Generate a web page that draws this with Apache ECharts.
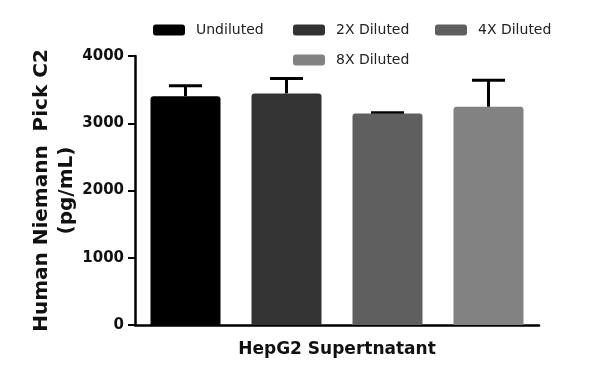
<!DOCTYPE html>
<html><head><meta charset="utf-8">
<script src="https://cdn.jsdelivr.net/npm/echarts@6/dist/echarts.min.js"></script>
<style>html,body{margin:0;padding:0;background:#fff}#c{width:600px;height:381px}</style>
</head><body><div id="c"></div>
<script>
const groupLabel = ['HepG2 Supertnatant'];
const seriesNames = ['Undiluted', '2X Diluted', '4X Diluted', '8X Diluted'];
const means = [3403, 3443, 3146, 3244];
const errTops = [3556, 3666, 3155, 3641];
const colors = ['#000000', '#333333', '#5f5f5f', '#828282'];
const yTicks = [0, 1000, 2000, 3000, 4000];

const FONT = 'DejaVu Sans';
const chart = echarts.init(document.getElementById('c'));

const barSeries = seriesNames.map((n, i) => ({
  name: n, type: 'bar', xAxisIndex: 1, barWidth: 70, barGap: '-100%',
  itemStyle: { color: colors[i], borderRadius: [3, 3, 0, 0] },
  data: means.map((v, j) => j === i ? v : null), z: 2
}));

const errData = means.map((m, i) => [i, m, errTops[i]]);

const legendLefts = [148, 288, 430, 288];
const legendTops = [18, 18, 18, 48];
const legends = seriesNames.map((n, i) => ({
  data: [n], left: legendLefts[i], top: legendTops[i], itemWidth: 32, itemHeight: 11, itemGap: 10,
  icon: 'roundRect', textStyle: { fontFamily: FONT, fontSize: 14, color: '#222', padding: [0, 0, 0, 6] }
}));

chart.setOption({
  animation: false,
  legend: legends,
  grid: { left: 135, right: 61, top: 56, bottom: 56 },
  xAxis: [{
    type: 'category', data: groupLabel, position: 'bottom',
    axisLine: { lineStyle: { color: '#000', width: 2.5 } },
    axisTick: { alignWithLabel: true, length: 6, lineStyle: { width: 2, color: '#000' } },
    axisLabel: { show: true, fontFamily: FONT, fontWeight: 'bold', fontSize: 17, color: '#111', margin: 16 }
  }, {
    type: 'category', data: seriesNames, show: false
  }],
  yAxis: {
    type: 'value', min: 0, max: 4000, interval: 1000,
    name: 'Human Niemann  Pick C2\n(pg/mL)', nameLocation: 'middle', nameRotate: 90, nameGap: 56,
    nameMoveOverlap: false,
    nameTextStyle: { fontFamily: FONT, fontWeight: 'bold', fontSize: 20, color: '#111', lineHeight: 25 },
    axisLine: { show: true, lineStyle: { color: '#000', width: 2.5 } },
    axisTick: { show: true, length: 7, lineStyle: { width: 2, color: '#000' } },
    splitLine: { show: false },
    axisLabel: { fontFamily: FONT, fontWeight: 'bold', fontSize: 15, color: '#111', margin: 11,
      formatter: v => yTicks.includes(v) ? String(v) : '' }
  },
  series: barSeries.concat([{
    type: 'custom', xAxisIndex: 1, z: 1, data: errData,
    renderItem: function (params, api) {
      const x = api.value(0);
      const p0 = api.coord([x, api.value(1)]);
      const p1 = api.coord([x, api.value(2)]);
      const half = 16.5;
      return { type: 'group', children: [
        { type: 'line', shape: { x1: p0[0], y1: p0[1], x2: p1[0], y2: p1[1] }, style: { stroke: '#000', lineWidth: 3 } },
        { type: 'line', shape: { x1: p1[0] - half, y1: p1[1], x2: p1[0] + half, y2: p1[1] }, style: { stroke: '#000', lineWidth: 3 } }
      ]};
    }
  }])
});
</script></body></html>
